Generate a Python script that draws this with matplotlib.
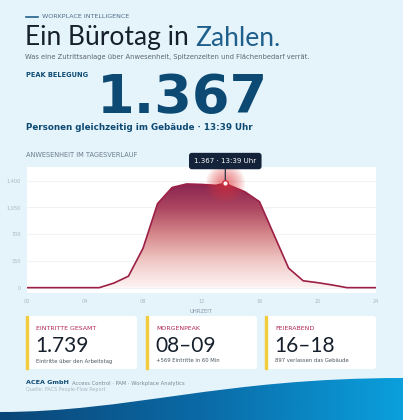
import numpy as np
import matplotlib.pyplot as plt
from matplotlib.patches import Rectangle, FancyBboxPatch, PathPatch
from matplotlib.path import Path
from matplotlib.colors import LinearSegmentedColormap

# occupancy over the day (persons in building)
hours = [0, 1, 2, 3, 4, 5, 6, 7, 8, 9, 10, 11, 12, 13, 13.65, 14, 15, 16, 17, 18, 19, 20, 21, 22, 23, 24]
count = [0, 0, 0, 0, 0, 0, 60, 150, 515, 1100, 1312, 1358, 1352, 1340, 1367, 1335, 1255, 1125, 690, 255, 90, 65, 35, 0, 0, 0]
peak_h, peak_v = 13.65, 1367

xticks = [0, 4, 8, 12, 16, 20, 24]
xtick_labels = ['00', '04', '08', '12', '16', '20', '24']
yticks = [0, 350, 700, 1050, 1400]
ytick_labels = ['0', '350', '700', '1,050', '1,400']

card_titles = ['EINTRITTE GESAMT', 'MORGENPEAK', 'FEIERABEND']
card_values = ['1.739', '08–09', '16–18']
card_notes = ['Eintritte über den Arbeitstag', '+569 Eintritte in 60 Min', '897 verlassen das Gebäude']

BG = '#e5f3fb'
NAVY = '#0d4a73'
DARK = '#16202c'
LINE = '#9c1f45'

fig = plt.figure(figsize=(4.03, 4.20), dpi=100)
bg = fig.add_axes([0, 0, 1, 1])
bg.set_xlim(0, 403)
bg.set_ylim(420, 0)
bg.axis('off')
bg.add_patch(Rectangle((0, 0), 403, 420, color=BG, zorder=0))


def after(txt, gap=0):
    # x position (in pixel coords of bg) right after a drawn text
    fig.canvas.draw()
    bb = txt.get_window_extent().transformed(bg.transData.inverted())
    return bb.x1 + gap


# header
bg.plot([26, 38], [17, 17], color='#1f5f8b', lw=1.2)
bg.text(42, 17, 'WORKPLACE INTELLIGENCE', fontsize=4.6, color='#4f6d86', va='center')
t1 = bg.text(25, 38, 'Ein Bürotag in ', fontsize=19, color=DARK, va='center', family='Lato')
bg.text(after(t1), 38, 'Zahlen.', fontsize=19, color='#1f5f8b', va='center', family='Lato')
bg.text(25, 57, 'Was eine Zutrittsanlage über Anwesenheit, Spitzenzeiten und Flächenbedarf verrät.',
        fontsize=4.9, color='#5d6670', va='center')
bg.text(26, 75, 'PEAK BELEGUNG', fontsize=4.8, color=NAVY, va='center', fontweight='bold')
bg.text(97, 113, '1.367', fontsize=39, color=NAVY, va='baseline', fontweight='bold')
bg.text(26, 128, 'Personen gleichzeitig im Gebäude · 13:39 Uhr', fontsize=6.3, color=NAVY,
        va='center', fontweight='bold')
bg.text(26, 155, 'ANWESENHEIT IM TAGESVERLAUF', fontsize=4.8, color='#6b7d8c', va='center')

# chart
ax = fig.add_axes([26.5 / 403, (420 - 293) / 420, 349.5 / 403, 126 / 420])
ax.set_zorder(2)
ax.set_facecolor('white')
for s in ax.spines.values():
    s.set_visible(False)
ax.set_yticks(yticks)
ax.set_yticklabels(ytick_labels)
ax.set_xticks(xticks)
ax.set_xticklabels(xtick_labels)
ax.tick_params(length=0, labelsize=3.6, colors='#a9b6c2', pad=4)
ax.grid(axis='y', color='#eef0f3', lw=0.6)
ax.set_axisbelow(True)
ax.set_xlabel('UHRZEIT', fontsize=3.8, color='#8797a5', labelpad=4)

fill = ax.fill_between(hours, count, 0, color='none', lw=0)
cmap = LinearSegmentedColormap.from_list('wine', ['#fdf4f3', '#f0c9c6', '#d6888b', '#ac4660', '#86214f'])
grad = np.linspace(0, 1, 256).reshape(-1, 1)
img = ax.imshow(grad, cmap=cmap, aspect='auto', origin='lower', extent=[0, 24, 0, 1400], zorder=1)
img.set_clip_path(fill.get_paths()[0], transform=ax.transData)
ax.set_xlim(0, 24)
ax.set_ylim(-70, 1580)
ax.plot(hours, count, color=LINE, lw=1.2, zorder=3)

for r in np.linspace(14, 3, 9):
    ax.scatter([peak_h], [peak_v], s=(2 * r) ** 2, color='#e0393b', alpha=0.09, lw=0,
               zorder=4, clip_on=False)
ax.scatter([peak_h], [peak_v], s=16, facecolor='white', edgecolor='#d02a3a', lw=1.0, zorder=6, clip_on=False)
ax.annotate('1.367 · 13:39 Uhr', xy=(peak_h, peak_v), xytext=(0, 16), textcoords='offset points',
            ha='center', va='center', fontsize=5.0, color='white', zorder=7,
            bbox=dict(boxstyle='round,pad=0.75,rounding_size=0.4', fc='#14233a', ec='none'),
            arrowprops=dict(arrowstyle='-', color='#14233a', lw=0.8, shrinkA=0, shrinkB=2.5))

# cards
card_x = [26, 146, 265]
for x, t, v, n in zip(card_x, card_titles, card_values, card_notes):
    bg.add_patch(FancyBboxPatch((x, 316), 111, 53, boxstyle='round,pad=0,rounding_size=3',
                                fc='white', ec='none', zorder=1))
    bg.add_patch(Rectangle((x, 316), 2, 53, color='#f2cc3c', zorder=2))
    bg.text(x + 10, 329, t, fontsize=4.5, color='#b0284f', va='center')
    bg.text(x + 9, 346, v, fontsize=15, color=DARK, va='center', family='Lato')
    bg.text(x + 10, 361, n, fontsize=3.8, color='#4a5560', va='center')

# footer
f1 = bg.text(26, 383, 'ACEA GmbH', fontsize=4.6, color=NAVY, va='center', fontweight='bold')
bg.text(after(f1, 3), 383, 'Access Control · PAM · Workplace Analytics', fontsize=3.8,
        color='#7b8894', va='center')
bg.text(26, 390, 'Quelle: PACS People-Flow Report', fontsize=3.5, color='#a8b7c3', va='center')

# wave
verts = [(0, 412), (130, 412), (220, 378), (403, 378), (403, 420), (0, 420), (0, 412)]
codes = [Path.MOVETO, Path.CURVE4, Path.CURVE4, Path.CURVE4, Path.LINETO, Path.LINETO, Path.CLOSEPOLY]
wave = PathPatch(Path(verts, codes), fc='none', ec='none')
bg.add_patch(wave)
wcmap = LinearSegmentedColormap.from_list('wave', ['#0b4677', '#0a6aa6', '#0aa0dd'])
wimg = bg.imshow(np.linspace(0, 1, 256).reshape(1, -1), cmap=wcmap, aspect='auto',
                 extent=[0, 403, 420, 370], zorder=1)
wimg.set_clip_path(wave)
bg.set_xlim(0, 403)
bg.set_ylim(420, 0)

fig.savefig('out.png', dpi=100)
